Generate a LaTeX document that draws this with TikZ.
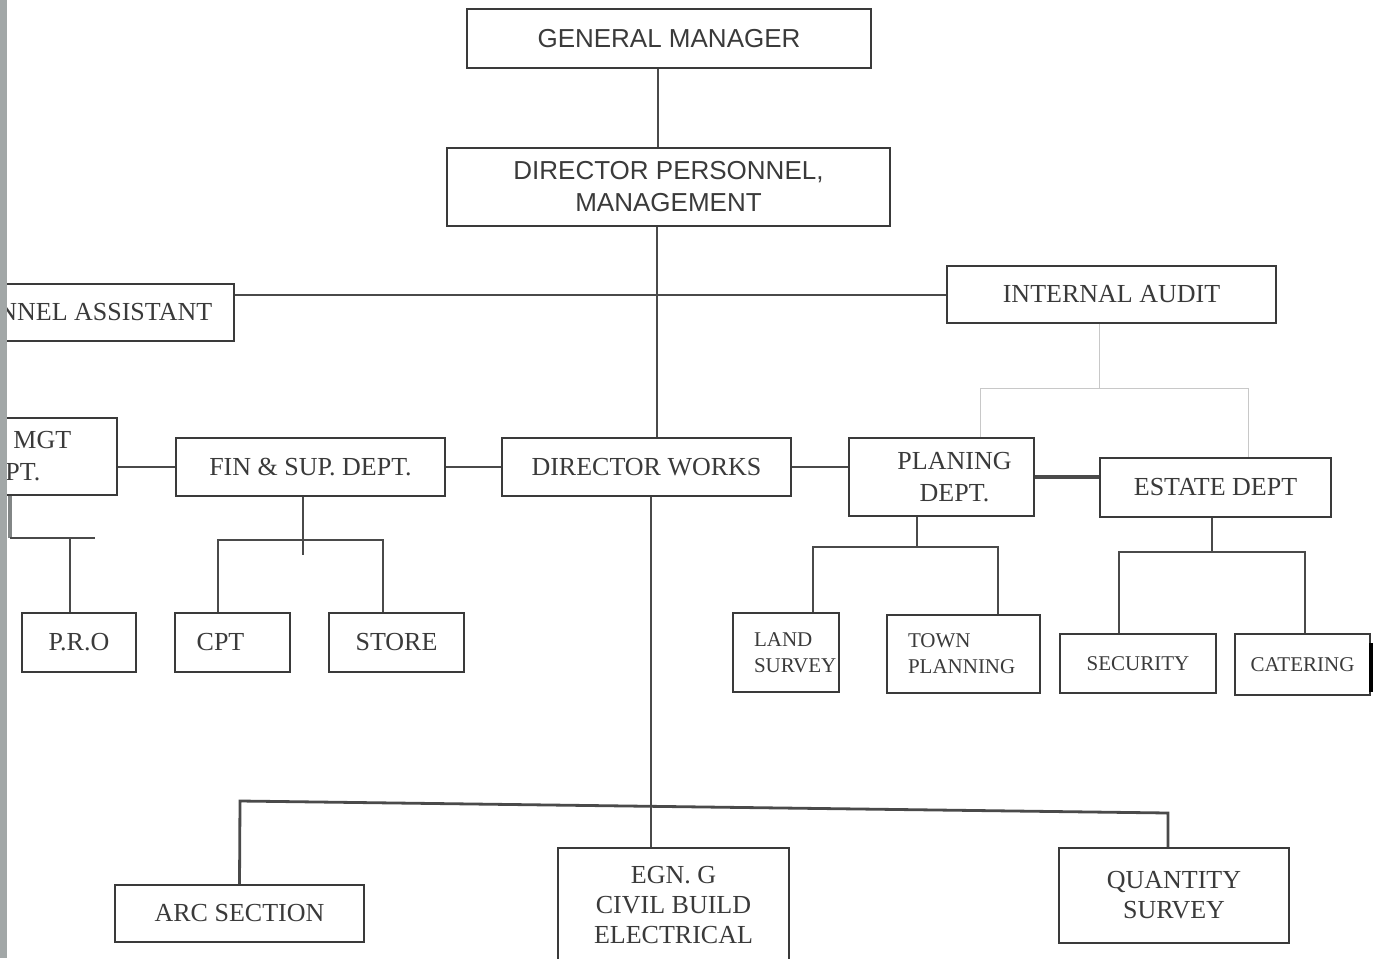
\documentclass[tikz,border=0pt]{standalone}
\usepackage{fontspec}
\setmainfont{Liberation Serif}
\newfontfamily\sansfont{Liberation Sans}
\usepackage{tikz}
\usetikzlibrary{positioning}
\usetikzlibrary{calc}
\usepackage{xcolor}
\definecolor{inkgray}{HTML}{3A3A3A}
\definecolor{linegray}{HTML}{4A4A4A}
\definecolor{faintgray}{HTML}{C8C8C8}
\definecolor{stripgray}{HTML}{A2A7A7}

\begin{document}
\begin{tikzpicture}[x=0.5pt,y=-0.5pt]
          \useasboundingbox (0,0) rectangle (1386,958);
          \clip (0,0) rectangle (1386,958);
          \begin{scope}[every node/.style={draw=inkgray,rectangle,line width=0.8pt,text=inkgray,inner sep=0pt,align=center,font=\fontsize{13}{16}\selectfont}]
            \node[font=\sansfont\fontsize{13}{16}\selectfont,minimum width=202pt,minimum height=29.5pt] (gm) at (669,38.5) {GENERAL MANAGER};
            \node[font=\sansfont\fontsize{13}{16}\selectfont,minimum width=221.5pt,minimum height=39pt] (dpm) at (668.5,187) {DIRECTOR PERSONNEL,\\MANAGEMENT};
            \node[anchor=east,inner xsep=11pt,minimum height=28.5pt] (pa) at (235,312.5) {NNEL ASSISTANT};
            \node[minimum width=164.5pt,minimum height=28.5pt] (ia) at (1111.5,294.5) {INTERNAL AUDIT};
            \node[anchor=east,align=left,inner xsep=23pt,minimum height=38.5pt] (mgt) at (118,456.5) {\hspace*{4pt}MGT\\PT.};
            \node[minimum width=134.5pt,minimum height=29pt] (fin) at (310.5,467) {FIN \& SUP. DEPT.};
            \node[minimum width=144.5pt,minimum height=29pt] (dw) at (646.5,467) {DIRECTOR WORKS};
            \node[minimum width=92.5pt,minimum height=39pt] (plan) at (941.5,477) {\hspace*{13pt}PLANING\\\hspace*{13pt}DEPT.};
            \node[minimum width=115.5pt,minimum height=29.5pt] (est) at (1215.5,487.5) {ESTATE DEPT};
            \node[minimum width=57pt,minimum height=29.5pt] (pro) at (79,642.5) {P.R.O};
            \node[minimum width=57.5pt,minimum height=29.5pt] (cpt) at (232.5,642.5) {CPT\hspace*{12pt}};
            \node[minimum width=67.5pt,minimum height=29.5pt] (store) at (396.5,642.5) {STORE};
            \node[font=\fontsize{10.5}{13}\selectfont,align=left,text width=32pt,inner xsep=10.5pt,minimum height=39.5pt] (land) at (786,652.5) {LAND\\SURVEY};
            \node[font=\fontsize{10.5}{13}\selectfont,align=left,text width=55.5pt,inner xsep=10.5pt,minimum height=39pt] (town) at (963.5,654) {TOWN\\PLANNING};
            \node[font=\fontsize{10.5}{13}\selectfont,minimum width=78pt,minimum height=29.5pt] (sec) at (1138,663.5) {SECURITY};
            \node[font=\fontsize{10.5}{13}\selectfont,minimum width=67.5pt,minimum height=30.5pt] (cat) at (1302.5,664.5) {CATERING};
            \node[minimum width=124.5pt,minimum height=28.5pt] (arc) at (239.5,913.5) {ARC SECTION};
            \node[font=\fontsize{13}{15}\selectfont,minimum width=115.5pt,minimum height=57pt] (egn) at (673.5,905) {EGN. G\\CIVIL BUILD\\ELECTRICAL};
            \node[font=\fontsize{13}{15}\selectfont,minimum width=115pt,minimum height=47.5pt] (qs) at (1174,895.5) {QUANTITY\\SURVEY};
          \end{scope}
          % junction points of the branch lines
          \coordinate (mgtbar) at (10,538);
          \coordinate (finL) at (218,540);
          \coordinate (finM) at (303,540);
          \coordinate (finR) at (383,540);
          \coordinate (plL) at (813,547);
          \coordinate (plM) at (917,547);
          \coordinate (plR) at (998,547);
          \coordinate (esL) at (1119,552);
          \coordinate (esM) at (1212,552);
          \coordinate (esR) at (1305,552);
          \coordinate (iaL) at (980,388);
          \coordinate (iaM) at (1099,388);
          \coordinate (iaR) at (1248,388);
          \coordinate (wL) at (240,801);
          \coordinate (wR) at (1168,813);
          \begin{scope}[draw=linegray,line width=1pt]
            \draw ([xshift=-5.5pt]gm.south) -- ([xshift=-5.5pt]gm.south |- dpm.north);
            \draw ([xshift=-6pt]dpm.south) -- ([xshift=-6pt]dpm.south |- dw.north);
            \draw ([xshift=2pt]dw.south) -- ([xshift=2pt]dw.south |- egn.north);
            \draw (pa.east |- ia.west) -- (ia.west);
            \draw (fin.west -| mgt.east) -- (fin.west);
            \draw (fin) -- (dw);
            \draw (dw.east) -- (dw.east -| plan.west);
            \draw[line width=1.6pt] (plan.east) -- (plan.east -| est.west);
            \draw[line width=2pt,draw=stripgray!80!black] (mgtbar |- mgt.south) -- (mgtbar);
            \draw (mgtbar) -- ++(85,0);
            \draw ([xshift=-4.5pt]pro.north) -- ([xshift=-4.5pt]pro.north |- mgtbar);
            \draw (finM |- fin.south) -- ([yshift=-7.5pt]finM);
            \draw (finL |- cpt.north) -- (finL) -- (finR) -- (finR |- store.north);
            \draw (plM |- plan.south) -- (plM);
            \draw (plL |- land.north) -- (plL) -- (plR) -- (plR |- town.north);
            \draw[line width=1.4pt] (esM |- est.south) -- (esM);
            \draw[line width=1.2pt] (esL |- sec.north) -- (esL) -- (esR) -- (esR |- cat.north);
            \draw[line width=1.4pt] (arc.north) -- (wL) -- (wR) -- (wR |- qs.north);
            \draw[line width=1.8pt,draw=black] ([yshift=-5pt]cat.north east) -- ([yshift=2pt]cat.south east);
          \end{scope}
          \begin{scope}[draw=faintgray,line width=0.5pt]
            \draw (iaM |- ia.south) -- (iaM);
            \draw (iaL |- plan.north) -- (iaL) -- (iaR) -- (iaR |- est.north);
          \end{scope}
          \fill[stripgray] (0,0) rectangle (7,958);
        \end{tikzpicture}
\end{document}
